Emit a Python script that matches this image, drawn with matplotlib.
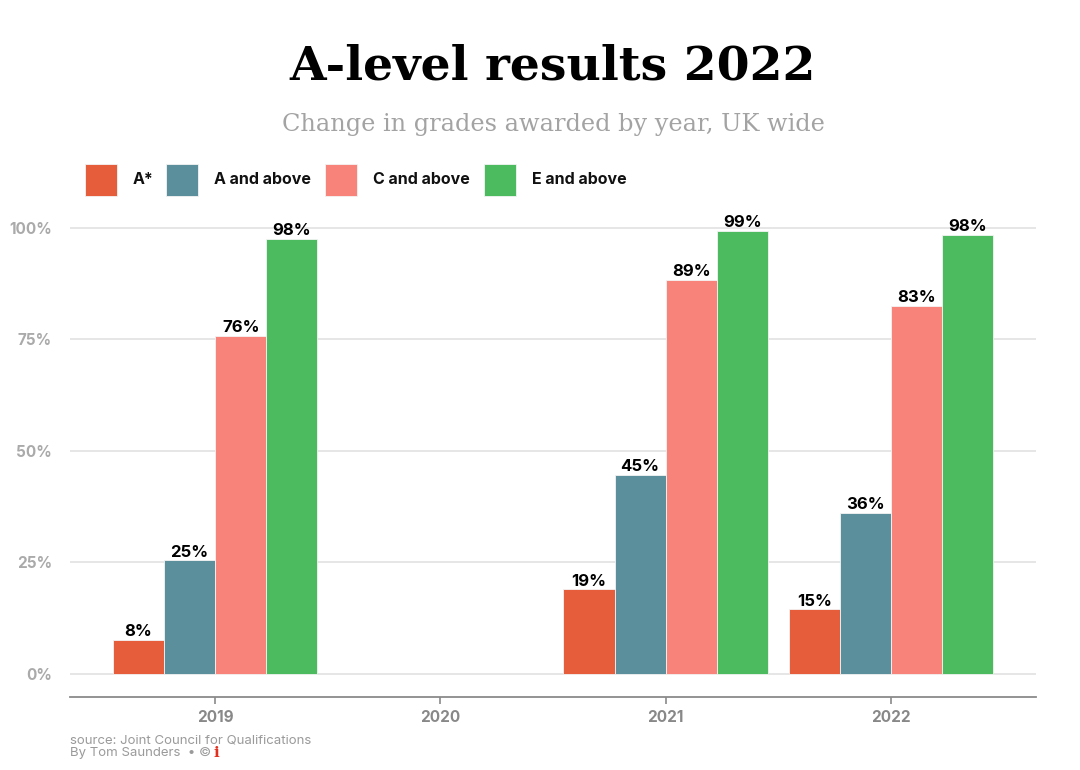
import matplotlib
matplotlib.use("Agg")
import matplotlib.pyplot as plt
from matplotlib.patches import Rectangle
import numpy as np

years = ["2019", "2020", "2021", "2022"]
series_names = ["A*", "A and above", "C and above", "E and above"]
a_star = [7.6, None, 19.0, 14.5]
a_above = [25.5, None, 44.7, 36.2]
c_above = [75.8, None, 88.4, 82.5]
e_above = [97.5, None, 99.3, 98.4]
labels_a_star = ["8%", None, "19%", "15%"]
labels_a_above = ["25%", None, "45%", "36%"]
labels_c_above = ["76%", None, "89%", "83%"]
labels_e_above = ["98%", None, "99%", "98%"]
yticks = [0, 25, 50, 75, 100]
ytick_labels = ["0%", "25%", "50%", "75%", "100%"]

colors = ["#E55D3A", "#5B8F9C", "#F8837A", "#4CBB5F"]
series = [a_star, a_above, c_above, e_above]
series_labels = [labels_a_star, labels_a_above, labels_c_above, labels_e_above]

fig = plt.figure(figsize=(10.8, 7.7), dpi=100)
ax = fig.add_axes([70/1080, 73/770, (1036-70)/1080, (697-219)/770])

x = np.arange(len(years))
w = 0.227
for i, (vals, labs, col) in enumerate(zip(series, series_labels, colors)):
    off = (i - 1.5) * w
    for xi, v, lab in zip(x, vals, labs):
        if v is None:
            continue
        ax.bar(xi + off, v, width=w, color=col, edgecolor="#f4f4f4", linewidth=0.6, zorder=3)
        ax.text(xi + off, v + 0.15, lab, ha="center", va="bottom", fontsize=12,
                fontweight="bold", family="Inter", color="#000000", zorder=4, clip_on=False)

ax.set_xlim(-0.644, 3.644)
ax.set_ylim(-5.16, 102)
ax.set_yticks(yticks)
ax.set_yticklabels(ytick_labels)
ax.set_xticks(x)
ax.set_xticklabels(years)
ax.grid(axis="y", color="#e2e2e2", linewidth=1.2, zorder=0)
for s in ["top", "right", "left"]:
    ax.spines[s].set_visible(False)
ax.spines["bottom"].set_color("#8a8a8a")
ax.spines["bottom"].set_linewidth(1.3)
ax.tick_params(axis="y", length=0, pad=13, labelcolor="#aaaaaa", labelsize=11)
ax.tick_params(axis="x", length=5, width=1.2, color="#8a8a8a", pad=4, labelcolor="#888888", labelsize=11)
for lab in ax.get_yticklabels() + ax.get_xticklabels():
    lab.set_fontweight("bold")
    lab.set_family("Inter")

# Title and subtitle
fig.text(553/1080, 1 - 67/770, "A-level results 2022", ha="center", va="center",
         fontsize=34, fontweight="bold", family="DejaVu Serif", color="#000000")
fig.text(553/1080, 1 - 125/770, "Change in grades awarded by year, UK wide", ha="center", va="center",
         fontsize=17.3, family="DejaVu Serif", color="#a3a3a3")

# Legend
leg_x = [85, 166, 325, 484]
for lx, name, col in zip(leg_x, series_names, colors):
    fig.patches.append(Rectangle((lx/1080, 1 - 196/770), 32/1080, 32/770,
                                 transform=fig.transFigure, facecolor=col, edgecolor="#f4f4f4", linewidth=0.6))
    fig.text((lx + 48)/1080, 1 - 180/770, name, ha="left", va="center", fontsize=11.5,
             fontweight="bold", family="Inter", color="#111111")

# Footer
fig.text(70/1080, 1 - 740/770, "source: Joint Council for Qualifications", ha="left", va="center",
         fontsize=9.5, family="Inter", color="#9a9a9a")
t = fig.text(70/1080, 1 - 753/770, "By Tom Saunders  • ©", ha="left", va="center",
             fontsize=9.5, family="Inter", color="#9a9a9a")
fig.canvas.draw()
bb = t.get_window_extent()
fig.text((bb.x1 + 2)/1080, 1 - 753/770, "i", ha="left", va="center",
         fontsize=11, fontweight="bold", family="DejaVu Serif", color="#e0301e")

fig.savefig("out.png", dpi=100, facecolor="white")
